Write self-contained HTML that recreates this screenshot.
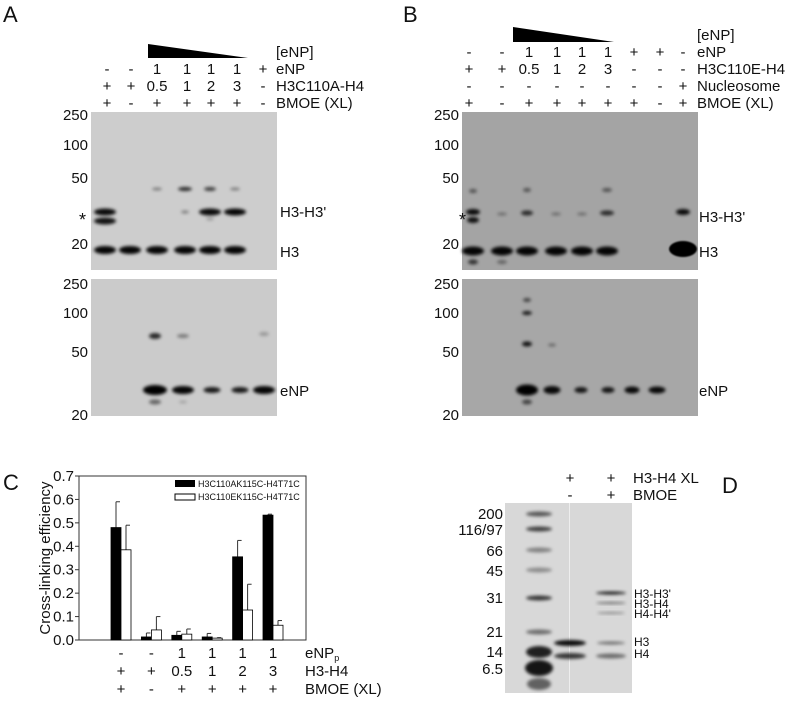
<!DOCTYPE html>
<html><head><meta charset="utf-8"><style>
body{margin:0;background:#fff;width:787px;height:699px;overflow:hidden;font-family:"Liberation Sans",sans-serif;}
svg text{font-family:"Liberation Sans",sans-serif;fill:#111;}
</style></head><body>
<svg id="fig" width="787" height="699" viewBox="0 0 787 699" xmlns="http://www.w3.org/2000/svg">
<defs>
<filter id="bl" x="-50%" y="-100%" width="200%" height="300%"><feGaussianBlur stdDeviation="1.6"/></filter>
<filter id="bl2" x="-50%" y="-100%" width="200%" height="300%"><feGaussianBlur stdDeviation="0.9"/></filter>
</defs>
<g id="gels"></g>
<g id="chart"></g>
</svg>
<script>
const NS='http://www.w3.org/2000/svg';
function mk(tag,attrs,parent,txt){const e=document.createElementNS(NS,tag);for(const k in attrs)e.setAttribute(k,attrs[k]);if(txt!==undefined)e.textContent=txt;(parent||document.getElementById('gels')).appendChild(e);return e;}
const G=document.getElementById('gels');
function T(x,y,s,size,anchor,name,parent){const t=mk('text',{x:x,y:y,'font-size':size||15,'text-anchor':anchor||'start'},parent||G,s);

return t;}
function band(x,y,w,h,op,parent){const e=mk('ellipse',{cx:x,cy:y,rx:w/2,ry:h/2,fill:'#000','fill-opacity':op,filter:'url(#bl)'},parent||G);

}
function rect(x,y,w,h,fill,name){const r=mk('rect',{x:x,y:y,width:w,height:h,fill:fill},G);

}

// Panel letters
T(3,22,'A',22,'start','panel-label-a');T(403,22,'B',22,'start','panel-label-b');
T(3,490,'C',22,'start','panel-label-c');T(722,493,'D',22,'start','panel-label-d');

// ===== Panel A =====
mk('polygon',{points:'148,44 148,58 248,58',fill:'#000'});
const laneA=[107,131,157,187,211,237,263];
const rowsA=[['-','-','1','1','1','1','+'],['+','+','0.5','1','2','3','-'],['+','-','+','+','+','+','-']];
const rowYA=[74,91,108];
T(276,57,'[eNP]',15,'start','enp-header-a');
['eNP','H3C110A-H4','BMOE (XL)'].forEach((s,i)=>T(276,rowYA[i],s,15,'start','row-label-a'));
rowsA.forEach((r,i)=>r.forEach((s,j)=>T(laneA[j],rowYA[i],s,15,'middle','lane-cond-a')));
rect(91,112,186,158,'#cdcdcd','gel-a-upper');
rect(91,279,186,137,'#cbcbcb','gel-a-lower');
[['250',120],['100',150],['50',183],['20',249]].forEach(m=>T(88,m[1],m[0],15,'end','marker-a-upper'));
[['250',289],['100',318],['50',357],['20',420]].forEach(m=>T(88,m[1],m[0],15,'end','marker-a-lower'));
T(86,226,'*',18,'end','asterisk-a');
T(280,217,"H3-H3'",15,'start','h3h3-label-a');T(280,257,'H3',15,'start','h3-label-a');T(280,396,'eNP',15,'start','enp-label-a');
const h3A=[105,130,157,185,210,235];h3A.forEach(x=>band(x,250,22,8,0.97));
band(105,212,22,7,0.95);band(105,221,22,7,0.9);
band(157,189,10,3,0.4);band(185,189,14,4,0.8);band(210,189,12,4,0.7);band(235,189,10,3,0.4);
band(185,212,8,3,0.4);band(210,212,22,7,0.95);band(235,212,22,7,0.97);band(210,219,8,3,0.25);
band(155,336,12,6,0.8);band(183,336,12,4,0.4);band(264,334,10,4,0.25);
[[155,24,10,1],[183,22,8,0.97],[212,17,6,0.88],[240,17,6,0.88],[264,22,8,0.97]].forEach(b=>band(b[0],390,b[1],b[2],b[3]));
band(155,402,12,5,0.5);band(183,402,8,3,0.2);

// ===== Panel B =====
mk('polygon',{points:'513,27 513,42 614,42',fill:'#000'});
const laneB=[469,502,529,557,582,608,634,660,683];
const rowsB=[['-','-','1','1','1','1','+','+','-'],['+','+','0.5','1','2','3','-','-','-'],['-','-','-','-','-','-','-','-','+'],['+','-','+','+','+','+','+','-','+']];
const rowYB=[57,74,91,108];
T(697,40,'[eNP]',15,'start','enp-header-b');
['eNP','H3C110E-H4','Nucleosome','BMOE (XL)'].forEach((s,i)=>T(697,rowYB[i],s,15,'start','row-label-b'));
rowsB.forEach((r,i)=>r.forEach((s,j)=>T(laneB[j],rowYB[i],s,15,'middle','lane-cond-b')));
rect(462,112,236,158,'#a4a4a4','gel-b-upper');
rect(462,279,236,137,'#a7a7a7','gel-b-lower');
[['250',120],['100',150],['50',183],['20',249]].forEach(m=>T(459,m[1],m[0],15,'end','marker-b-upper'));
[['250',289],['100',318],['50',357],['20',420]].forEach(m=>T(459,m[1],m[0],15,'end','marker-b-lower'));
T(466,226,'*',18,'end','asterisk-b');
T(699,222,"H3-H3'",15,'start','h3h3-label-b');T(699,257,'H3',15,'start','h3-label-b');T(699,396,'eNP',15,'start','enp-label-b');
[473,502,527,556,582,607].forEach(x=>band(x,251,22,9,0.97));
mk('ellipse',{cx:683,cy:249,rx:14,ry:8,fill:'#000',filter:'url(#bl2)'});
band(473,212,14,6,0.95);band(473,220,12,6,0.9);band(473,191,8,4,0.5);band(473,262,10,5,0.7);band(502,262,10,4,0.4);
band(502,214,10,3,0.35);band(527,213,12,5,0.75);band(556,214,10,3,0.35);band(582,214,10,3,0.35);band(607,213,14,5,0.75);
band(527,190,8,4,0.5);band(607,190,10,4,0.5);band(683,212,14,6,0.95);
band(527,300,8,4,0.6);band(527,313,10,4,0.85);band(527,344,10,5,0.9);band(552,345,8,3,0.4);
band(527,390,22,11,1);band(527,402,10,5,0.6);
[[552,17,8,0.95],[581,13,6,0.88],[608,13,6,0.88],[632,15,7,0.95],[657,17,7,0.95]].forEach(b=>band(b[0],390,b[1],b[2],b[3]));

// ===== Panel D =====
T(570,483,'+',15,'middle','lane-cond-d');T(611,483,'+',15,'middle','lane-cond-d');
T(570,500,'-',15,'middle','lane-cond-d');T(611,500,'+',15,'middle','lane-cond-d');
T(633,483,'H3-H4 XL',15,'start','row-label-d');T(633,500,'BMOE',15,'start','row-label-d');
rect(505,503,127,190,'#d8d8d8','gel-d');
rect(569,503,1,190,'#eeeeee','gel-d-divider');
[['200',519],['116/97',535],['66',556],['45',576],['31',603],['21',637],['14',657],['6.5',674]].forEach(m=>T(503,m[1],m[0],15,'end','marker-d'));
[[514,0.6],[529,0.7],[550,0.4],[570,0.35],[598,0.75],[632,0.5]].forEach(b=>band(539,b[0],26,5,b[1]));
band(539,652,26,12,0.85);band(539,668,28,16,0.9);band(539,684,24,12,0.55);
band(570,643,32,6,0.95);band(570,656,32,6,0.75);
band(611,643,28,3,0.5);band(611,656,30,5,0.5);band(611,593,30,3,0.9);band(611,603,30,2,0.55);band(611,613,28,2,0.4);
[["H3-H3'",598],['H3-H4',608],["H4-H4'",618],['H3',646],['H4',658]].forEach(l=>T(634,l[1],l[0],12,'start','band-label-d'));

// ===== Panel C chart =====
const categories=['1','2','3','4','5','6'];
const seriesA=[0.48,0.013,0.02,0.013,0.355,0.533];
const errA=[0.11,0.017,0.017,0.015,0.07,0.004];
const seriesE=[0.385,0.043,0.025,0.008,0.128,0.063];
const errE=[0.105,0.057,0.022,0.002,0.11,0.02];
const yTicks=[0,0.1,0.2,0.3,0.4,0.5,0.6,0.7];
const rowEnp=['-','-','1','1','1','1'];
const rowH=['+','+','0.5','1','2','3'];
const rowXL=['+','-','+','+','+','+'];
(function(){
const C=document.getElementById('chart');
const L=79,R=306,Tp=476,B=640;
const y=v=>B-(v/0.7)*(B-Tp);
const xc=i=>121+i*(273-121)/5;
const ax=mk('rect',{x:L,y:Tp,width:R-L,height:B-Tp,fill:'none',stroke:'#333','stroke-width':1},C);


yTicks.forEach(v=>{
 const tk=mk('line',{x1:L-4,x2:L,y1:y(v),y2:y(v),stroke:'#333'},C);
 
 
 T(L-5,y(v)+5,v.toFixed(1),15,'end','y-tick-label',C);
});
const yt=T(0,0,'Cross-linking efficiency',15,'middle','y-axis-title',C);
yt.setAttribute('transform','translate(50,558) rotate(-90)');
function bar(i,v,e,fill,off,name){
 const x0=xc(i)+off;
 const eb=mk('line',{x1:x0+5,x2:x0+5,y1:y(v),y2:y(v+e),stroke:'#333'},C);
 
 
 const cap=mk('line',{x1:x0+5,x2:x0+9,y1:y(v+e),y2:y(v+e),stroke:'#333'},C);
 
 
 const r=mk('rect',{x:x0,y:y(v),width:10,height:B-y(v),fill:fill,stroke:'#000','stroke-width':0.8},C);
 
 
}
categories.forEach((c,i)=>{bar(i,seriesA[i],errA[i],'#000',-10,'bar-c110a-'+c);bar(i,seriesE[i],errE[i],'#fff',0,'bar-c110e-'+c);
 T(xc(i),658,rowEnp[i],15,'middle','x-cond-enp',C);T(xc(i),676,rowH[i],15,'middle','x-cond-h3h4',C);T(xc(i),694,rowXL[i],15,'middle','x-cond-bmoe',C);});
const l1=mk('rect',{x:175,y:480,width:20,height:7,fill:'#000'},C);


const l2=mk('rect',{x:175,y:494,width:20,height:6,fill:'#fff',stroke:'#000'},C);


T(198,487,'H3C110AK115C-H4T71C',9,'start','legend-entry-c110a',C);
T(198,500,'H3C110EK115C-H4T71C',9,'start','legend-entry-c110e',C);
const e1=T(305,658,'eNP',15,'start','row-label-enp',C);
const sub=mk('tspan',{'font-size':9,dy:3},e1,'p');
T(305,676,'H3-H4',15,'start','row-label-h3h4',C);
T(305,694,'BMOE (XL)',15,'start','row-label-bmoe',C);
})();
</script>
</body></html>
